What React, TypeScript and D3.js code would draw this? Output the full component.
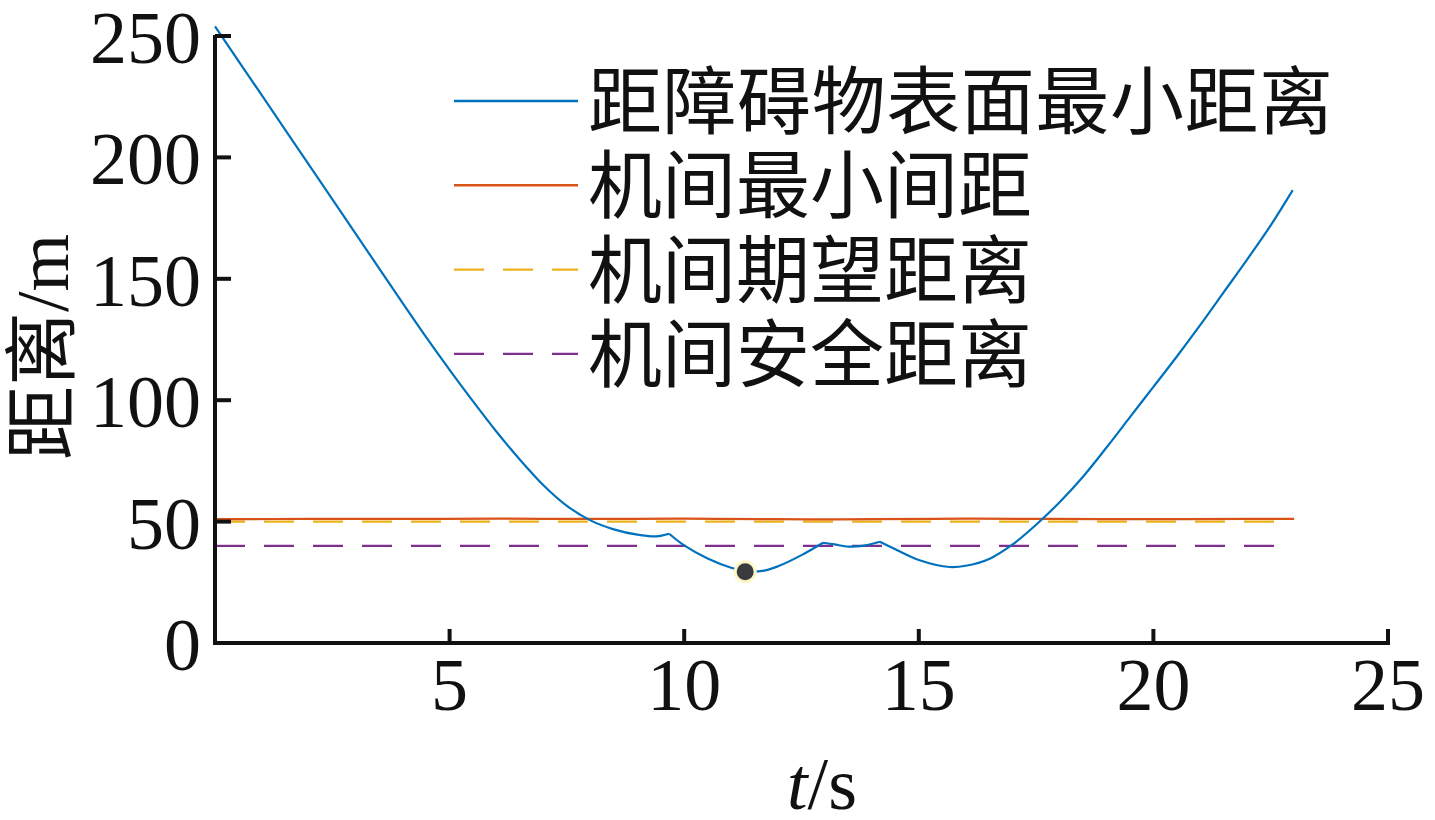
import React from "react";
import * as d3 from "d3";

const obstacleT = [0, 1, 2, 3, 4, 4.5, 5, 5.5, 6, 6.5, 7, 7.5, 8, 8.5, 9, 9.4, 9.68, 10, 10.5, 11, 11.3, 11.7, 12, 12.5, 12.96, 13.2, 13.5, 13.8, 14.17, 14.5, 15, 15.66, 16, 16.5, 17, 17.5, 18, 18.5, 19, 19.5, 20, 20.5, 21, 21.5, 22, 22.5, 22.97];
const obstacleV = [254, 225.5, 197, 168.5, 140, 126, 112.5, 99.5, 87, 75.5, 65, 56.5, 50.5, 46.8, 44.6, 43.9, 45, 40.2, 34.8, 31, 29.6, 29.8, 31.6, 36.2, 41.3, 40.6, 39.7, 40, 41.7, 38.6, 34.2, 31.3, 31.8, 34.6, 40.6, 48.7, 58, 68.5, 80.5, 93, 105.5, 118, 131, 144.5, 158, 172, 186.5];
const kinkT = [9.68, 12.96, 14.17];

const minSpacingT = [0, 2, 4, 6, 8, 10, 12, 13, 14, 16, 18, 20, 22, 23];
const minSpacingV = [51, 51.1, 51.1, 51.2, 51.1, 51.2, 51, 50.9, 51, 51.2, 51.1, 51, 51.1, 51.1];

const expectedDist = 50;
const safeDist = 40;
const tEnd = 22.97;

const minPoint = { t: 11.3, v: 29.3 };

const xTicks = [5, 10, 15, 20, 25];
const yTicks = [0, 50, 100, 150, 200, 250];

const legendLabels = ["距障碍物表面最小距离", "机间最小间距", "机间期望距离", "机间安全距离"];
const colors = ["#0072BD", "#D95319", "#EDB120", "#7E2F8E"];
const dashed = [false, false, true, true];

export default function App() {
  const x = d3.scaleLinear().domain([0, 25]).range([215, 1388]);
  const y = d3.scaleLinear().domain([0, 250]).range([643, 36]);
  const smooth = d3
    .line<[number, number]>()
    .x((d) => x(d[0]))
    .y((d) => y(d[1]))
    .curve(d3.curveCatmullRom.alpha(0.5));
  const lin = d3
    .line<[number, number]>()
    .x((d) => x(d[0]))
    .y((d) => y(d[1]));

  const obstacle = obstacleT.map((t, i) => [t, obstacleV[i]] as [number, number]);
  // split at kinks so that the corners stay sharp
  const segments: [number, number][][] = [];
  let cur: [number, number][] = [];
  obstacle.forEach((p) => {
    cur.push(p);
    if (kinkT.includes(p[0])) {
      segments.push(cur);
      cur = [p];
    }
  });
  segments.push(cur);
  const obstaclePath = segments.map((s) => smooth(s)).join("");

  const minSp = minSpacingT.map((t, i) => [t, minSpacingV[i]] as [number, number]);
  const serif = "'Liberation Serif', 'Times New Roman', serif";
  const cjk = "'Noto Sans CJK SC', sans-serif";
  const dash = "30 19";

  return (
    <svg width={1435} height={820} style={{ position: "absolute", left: 0, top: 0, background: "#fff" }}>
      <rect width={1435} height={820} fill="#fff" />
      {/* data lines */}
      <path d={lin([[0, safeDist], [tEnd, safeDist]])!} stroke={colors[3]} strokeWidth={2.2} strokeDasharray={dash} fill="none" />
      <path d={lin([[0, expectedDist], [tEnd, expectedDist]])!} stroke={colors[2]} strokeWidth={2.4} strokeDasharray={dash} fill="none" />
      <path d={smooth(minSp)!} stroke={colors[1]} strokeWidth={2.2} fill="none" />
      <path d={obstaclePath} stroke={colors[0]} strokeWidth={2.2} fill="none" />
      <circle cx={x(minPoint.t)} cy={y(minPoint.v)} r={11.5} fill="#fdf7c8" />
      <circle cx={x(minPoint.t)} cy={y(minPoint.v)} r={8.5} fill="#3a3a3f" />

      {/* axes */}
      <line x1={x(0)} x2={x(0)} y1={y(250) - 1} y2={y(0) + 2} stroke="#111" strokeWidth={4} />
      <line x1={x(0) - 2} x2={x(25) + 2} y1={y(0)} y2={y(0)} stroke="#111" strokeWidth={4} />
      {yTicks.map((t) => (
        <g key={"y" + t}>
          <line x1={x(0)} x2={x(0) + 16} y1={y(t)} y2={y(t)} stroke="#111" strokeWidth={4} />
          <text x={201} y={y(t) + 27} textAnchor="end" fontFamily={serif} fontSize={74} fill="#111">
            {t}
          </text>
        </g>
      ))}
      {xTicks.map((t) => (
        <g key={"x" + t}>
          <line x1={x(t)} x2={x(t)} y1={y(0)} y2={y(0) - 14} stroke="#111" strokeWidth={4} />
          <text x={x(t)} y={710} textAnchor="middle" fontFamily={serif} fontSize={74} fill="#111">
            {t}
          </text>
        </g>
      ))}

      {/* axis titles */}
      <text x={822} y={809} textAnchor="middle" fontFamily={serif} fontSize={74} fill="#111">
        <tspan fontStyle="italic">t</tspan>/s
      </text>
      <text transform="translate(68,347) rotate(-90)" textAnchor="middle" fontSize={74} fill="#111">
        <tspan fontFamily={cjk}>距离</tspan>
        <tspan fontFamily={serif}>/m</tspan>
      </text>

      {/* legend */}
      {legendLabels.map((lab, i) => {
        const ly = 101 + i * 84.3;
        const stretch = i === 0 ? { textLength: 745, lengthAdjust: "spacing" } : {};
        return (
          <g key={lab}>
            <line x1={454} x2={578} y1={ly} y2={ly} stroke={colors[i]} strokeWidth={2.4} strokeDasharray={dashed[i] ? dash : undefined} />
            <text x={588} y={ly + 27} fontFamily={cjk} fontSize={74} fill="#111" {...stretch}>
              {lab}
            </text>
          </g>
        );
      })}
    </svg>
  );
}
